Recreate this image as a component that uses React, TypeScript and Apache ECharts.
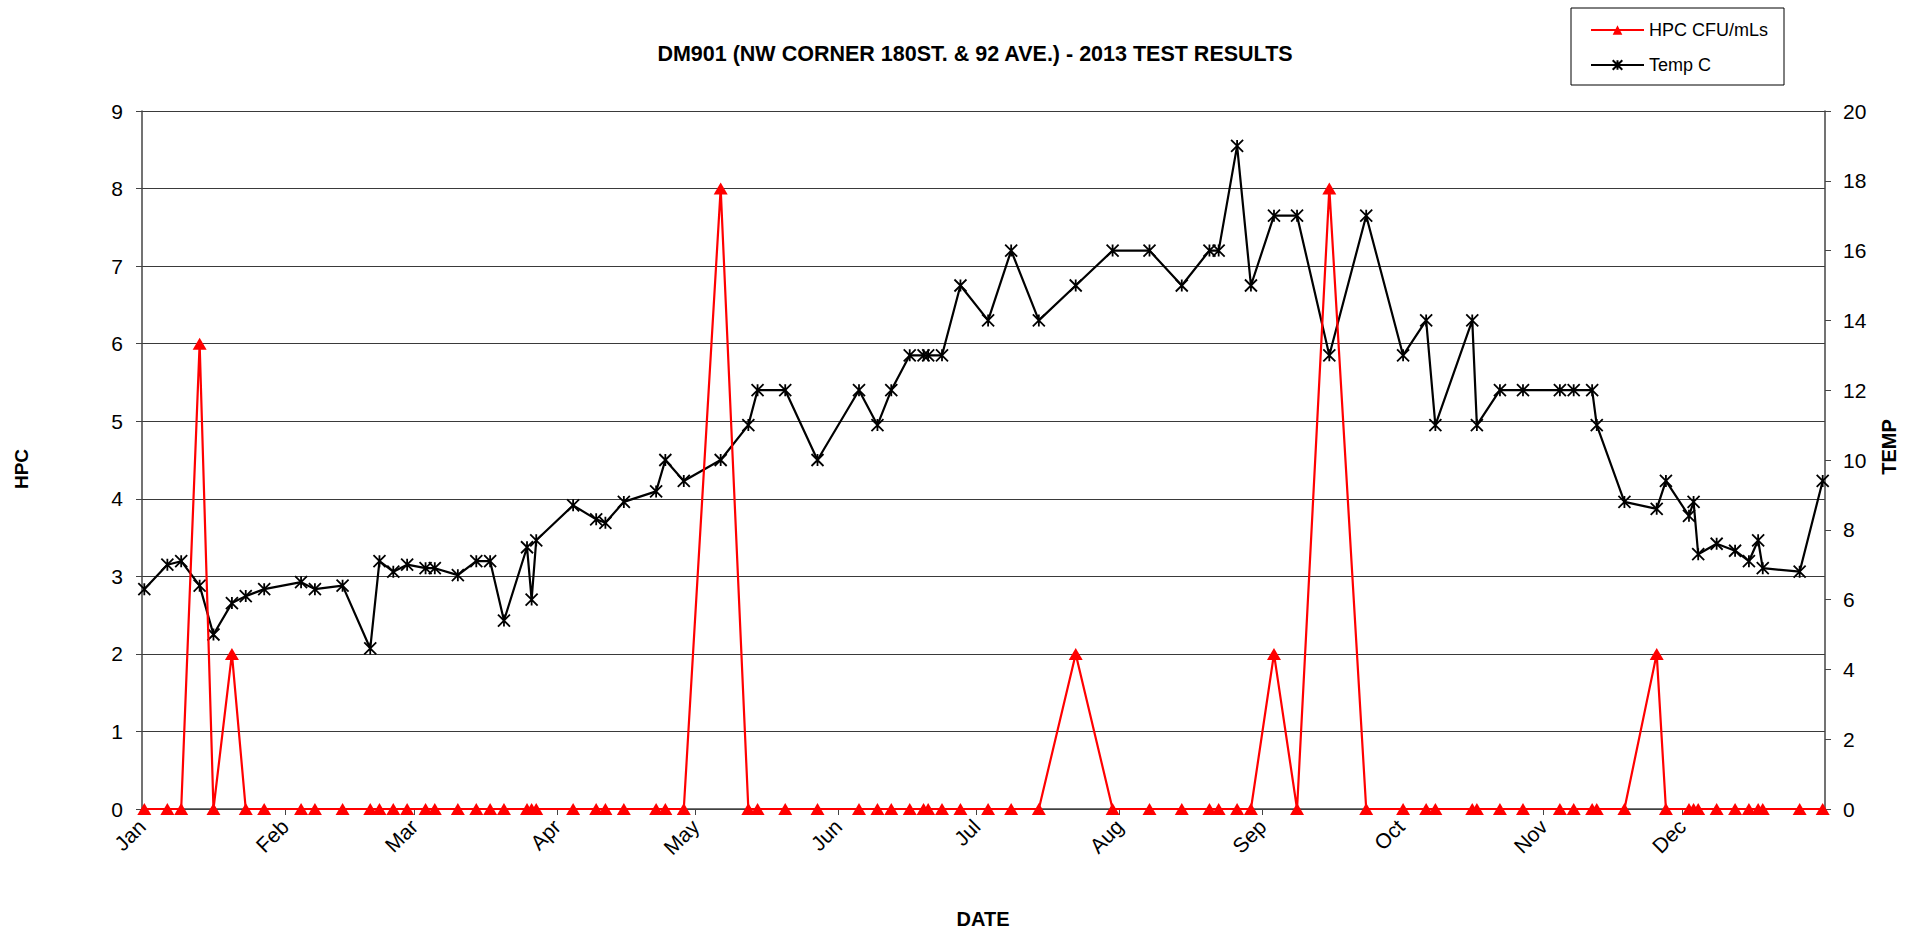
import React, { useEffect, useRef } from "react";
import * as echarts from "echarts";

// ---- data ----
const sampleDates = [
  "2013-01-01", "2013-01-06", "2013-01-09", "2013-01-13", "2013-01-16", "2013-01-20", "2013-01-23", "2013-01-27",
  "2013-02-04", "2013-02-07", "2013-02-13", "2013-02-19", "2013-02-21", "2013-02-24", "2013-02-27",
  "2013-03-03", "2013-03-05", "2013-03-10", "2013-03-14", "2013-03-17", "2013-03-20", "2013-03-25", "2013-03-26", "2013-03-27",
  "2013-04-04", "2013-04-09", "2013-04-11", "2013-04-15", "2013-04-22", "2013-04-24", "2013-04-28",
  "2013-05-06", "2013-05-12", "2013-05-14", "2013-05-20", "2013-05-27",
  "2013-06-05", "2013-06-09", "2013-06-12", "2013-06-16", "2013-06-19", "2013-06-20", "2013-06-23", "2013-06-27",
  "2013-07-03", "2013-07-08", "2013-07-14", "2013-07-22", "2013-07-30",
  "2013-08-07", "2013-08-14", "2013-08-20", "2013-08-22", "2013-08-26", "2013-08-29",
  "2013-09-03", "2013-09-08", "2013-09-15", "2013-09-23",
  "2013-10-01", "2013-10-06", "2013-10-08", "2013-10-16", "2013-10-17", "2013-10-22", "2013-10-27",
  "2013-11-04", "2013-11-07", "2013-11-11", "2013-11-12", "2013-11-18", "2013-11-25", "2013-11-27",
  "2013-12-02", "2013-12-03", "2013-12-04", "2013-12-08", "2013-12-12", "2013-12-15", "2013-12-17", "2013-12-18",
  "2013-12-26", "2013-12-31",
];

const hpcValues = [
  0, 0, 0, 6, 0, 2, 0, 0,
  0, 0, 0, 0, 0, 0, 0,
  0, 0, 0, 0, 0, 0, 0, 0, 0,
  0, 0, 0, 0, 0, 0, 0,
  8, 0, 0, 0, 0,
  0, 0, 0, 0, 0, 0, 0, 0,
  0, 0, 0, 2, 0,
  0, 0, 0, 0, 0, 0,
  2, 0, 8, 0,
  0, 0, 0, 0, 0, 0, 0,
  0, 0, 0, 0, 0, 2, 0,
  0, 0, 0, 0, 0, 0, 0, 0,
  0, 0,
];

const tempValues = [
  6.3, 7.0, 7.1, 6.4, 5.0, 5.9, 6.1, 6.3,
  6.5, 6.3, 6.4, 4.6, 7.1, 6.8, 7.0,
  6.9, 6.9, 6.7, 7.1, 7.1, 5.4, 7.5, 6.0, 7.7,
  8.7, 8.3, 8.2, 8.8, 9.1, 10.0, 9.4,
  10.0, 11.0, 12.0, 12.0, 10.0,
  12.0, 11.0, 12.0, 13.0, 13.0, 13.0, 13.0, 15.0,
  14.0, 16.0, 14.0, 15.0, 16.0,
  16.0, 15.0, 16.0, 16.0, 19.0, 15.0,
  17.0, 17.0, 13.0, 17.0,
  13.0, 14.0, 11.0, 14.0, 11.0, 12.0, 12.0,
  12.0, 12.0, 12.0, 11.0, 8.8, 8.6, 9.4,
  8.4, 8.8, 7.3, 7.6, 7.4, 7.1, 7.7, 6.9,
  6.8, 9.4,
];

const monthLabels = ["Jan", "Feb", "Mar", "Apr", "May", "Jun", "Jul", "Aug", "Sep", "Oct", "Nov", "Dec"];
const monthStartDates = [
  "2013-01-01", "2013-02-01", "2013-03-01", "2013-04-01", "2013-05-01", "2013-06-01",
  "2013-07-01", "2013-08-01", "2013-09-01", "2013-10-01", "2013-11-01", "2013-12-01",
];

const TITLE = "DM901 (NW CORNER 180ST. & 92 AVE.) - 2013 TEST RESULTS";
const HPC_NAME = "HPC CFU/mLs";
const TEMP_NAME = "Temp C";

const FONT = "'Liberation Sans', Arial, Helvetica, sans-serif";
const STAR = "path://M0 0L12 12M12 0L0 12M6 0L6 12";

function dayOfYear(iso: string): number {
  const [y, m, d] = iso.split("-").map(Number);
  return (Date.UTC(y, m - 1, d) - Date.UTC(2013, 0, 1)) / 86400000;
}

export default function App() {
  const ref = useRef<HTMLDivElement>(null);

  useEffect(() => {
    document.body.style.margin = "0";
    if (!ref.current) return;
    const chart = echarts.init(ref.current, undefined, { renderer: "svg" });

    const monthStarts = monthStartDates.map(dayOfYear);
    // Excel date axis: each day is centred in its one-day slot
    const hpcData = sampleDates.map((d, i) => [dayOfYear(d) + 0.5, hpcValues[i]]);
    const tempData = sampleDates.map((d, i) => [dayOfYear(d) + 0.5, tempValues[i]]);

    const axisLabelStyle = { color: "#000", fontSize: 21, fontFamily: FONT };

    chart.setOption({
      animation: false,
      backgroundColor: "#fff",
      textStyle: { fontFamily: FONT },
      grid: { left: 142, right: 94, top: 111, bottom: 128, containLabel: false },
      legend: {
        data: [HPC_NAME, TEMP_NAME],
        orient: "vertical",
        left: 1571,
        top: 8,
        padding: [13, 16, 11, 19],
        itemWidth: 53,
        itemHeight: 12,
        itemGap: 17,
        borderColor: "#000",
        borderWidth: 1,
        backgroundColor: "#fff",
        textStyle: { color: "#000", fontSize: 18, fontFamily: FONT },
      },
      xAxis: {
        type: "value",
        min: 0,
        max: 365,
        splitLine: { show: false },
        axisLine: { show: true, lineStyle: { color: "#444", width: 1.5 } },
        axisTick: { show: true, length: 6, customValues: monthStarts, lineStyle: { color: "#444" } },
        axisLabel: {
          ...axisLabelStyle,
          customValues: monthStarts,
          rotate: 45,
          margin: 14,
          formatter: (v: number) => {
            const idx = monthStarts.indexOf(v);
            return idx >= 0 ? monthLabels[idx] : "";
          },
        },
      },
      yAxis: [
        {
          type: "value",
          min: 0,
          max: 9,
          interval: 1,
          position: "left",
          axisLine: { show: true, lineStyle: { color: "#444", width: 1.5 } },
          axisTick: { show: true, length: 6, lineStyle: { color: "#444" } },
          axisLabel: { ...axisLabelStyle, margin: 19 },
          splitLine: { show: true, lineStyle: { color: "#3a3a3a", width: 1 } },
        },
        {
          type: "value",
          min: 0,
          max: 20,
          interval: 2,
          position: "right",
          axisLine: { show: true, lineStyle: { color: "#444", width: 1.5 } },
          axisTick: { show: true, length: 6, lineStyle: { color: "#444" } },
          axisLabel: { ...axisLabelStyle, margin: 18 },
          splitLine: { show: false },
        },
      ],
      series: [
        {
          name: TEMP_NAME,
          type: "line",
          yAxisIndex: 1,
          data: tempData,
          symbol: STAR,
          symbolSize: 12,
          clip: false,
          lineStyle: { color: "#000", width: 2.2 },
          itemStyle: { color: "rgba(0,0,0,0)", borderColor: "#000", borderWidth: 1.8 },
          z: 2,
        },
        {
          name: HPC_NAME,
          type: "line",
          yAxisIndex: 0,
          data: hpcData,
          symbol: "triangle",
          symbolSize: [14, 12],
          clip: false,
          lineStyle: { color: "#ff0000", width: 2.2 },
          itemStyle: { color: "#ff0000" },
          z: 3,
        },
      ],
      graphic: [
        {
          type: "text",
          x: 975,
          y: 54,
          style: { text: TITLE, font: `bold 21.5px ${FONT}`, fill: "#000", textAlign: "center", textVerticalAlign: "middle" },
        },
        {
          type: "text",
          x: 21,
          y: 469,
          rotation: Math.PI / 2,
          style: { text: "HPC", font: `bold 19px ${FONT}`, fill: "#000", textAlign: "center", textVerticalAlign: "middle" },
        },
        {
          type: "text",
          x: 1889,
          y: 447,
          rotation: Math.PI / 2,
          style: { text: "TEMP", font: `bold 20px ${FONT}`, fill: "#000", textAlign: "center", textVerticalAlign: "middle" },
        },
        {
          type: "text",
          x: 983,
          y: 919,
          style: { text: "DATE", font: `bold 20px ${FONT}`, fill: "#000", textAlign: "center", textVerticalAlign: "middle" },
        },
      ],
    });

    return () => chart.dispose();
  }, []);

  return <div ref={ref} style={{ width: 1919, height: 937 }} />;
}
